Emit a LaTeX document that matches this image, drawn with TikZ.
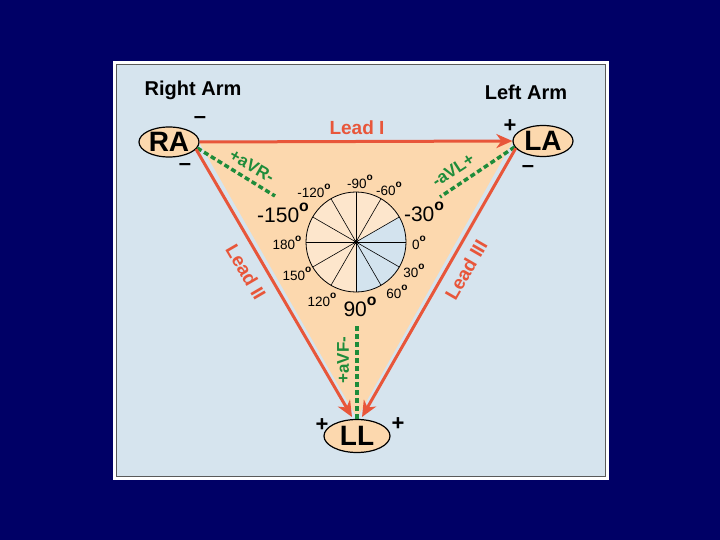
\documentclass[tikz,border=0pt]{standalone}
\usepackage{fontspec}
\setmainfont{Liberation Sans}
\usetikzlibrary{shapes.geometric,arrows.meta}
\definecolor{navy}{HTML}{000066}
\definecolor{panel}{HTML}{D6E4EE}
\definecolor{peach}{HTML}{FCD8AE}
\definecolor{lightpeach}{HTML}{FDE6CC}
\definecolor{leadred}{HTML}{E8563A}
\definecolor{avgreen}{HTML}{1E8C3A}
\definecolor{sectorblue}{HTML}{D3E3EE}
\newcommand\dgo{\raisebox{0.55em}{\scalebox{0.75}{\bfseries o}}}
\begin{document}
\begin{tikzpicture}[x=1pt,y=-1pt,
  limb/.style={ellipse,draw=black,line width=1.2pt,fill=peach,inner sep=0pt,font=\bfseries\fontsize{28}{28}\selectfont},
  lead/.style={draw=leadred,line width=3pt,-{Stealth[length=16pt,width=14pt,inset=5pt]}},
  leadlbl/.style={text=leadred,font=\bfseries\fontsize{19}{19}\selectfont},
  aug/.style={draw=avgreen,line width=3.5pt,dash pattern=on 5pt off 3pt},
  auglbl/.style={text=avgreen,font=\bfseries\fontsize{17}{17}\selectfont,inner sep=1pt},
  sign/.style={font=\bfseries\fontsize{22}{22}\selectfont,inner sep=0pt},
  armlbl/.style={font=\bfseries\fontsize{20}{20}\selectfont},
  sm/.style={font=\fontsize{13.5}{13.5}\selectfont,inner sep=0pt},
  lg/.style={font=\fontsize{21}{21}\selectfont,inner sep=0pt}]
\fill[navy] (0,0) rectangle (720,540);
\useasboundingbox (0,0) rectangle (720,540);
\draw[white,line width=3pt,fill=panel] (114.5,62.5) rectangle (607,478);
\draw[gray!70!black,line width=0.8pt] (116.5,64.5) rectangle (605,476);
% triangle
\fill[peach] (199,142) -- (513,141) -- (357,418) -- cycle;
% hexaxial circle
\coordinate (c) at (356,242);
\fill[lightpeach] (c) circle[radius=50pt];
\fill[sectorblue] (c) -- ++(30:50pt) arc[start angle=30,end angle=-90,radius=50pt] -- cycle;
\foreach \a in {0,30,...,150}
  \draw[line width=0.6pt] (c) ++(\a:50pt) -- ++(\a+180:100pt);
\draw[line width=0.8pt] (c) circle[radius=50pt];
\fill (c) circle[radius=2pt];
% angle labels
\node[sm] (am90) at (360,182) {-90\dgo};
\node[sm] (am120) at (314,191) {-120\dgo};
\node[sm] (am60) at (389,189) {-60\dgo};
\node[lg] (am150) at (283,213) {-150\dgo};
\node[lg] (am30) at (424,212) {-30\dgo};
\node[sm] (a180) at (287,243) {180\dgo};
\node[sm] (a0) at (419,243) {0\dgo};
\node[sm] (a150) at (297,274) {150\dgo};
\node[sm] (a30) at (414,271) {30\dgo};
\node[sm] (a120) at (322,300) {120\dgo};
\node[sm] (a60) at (397,292) {60\dgo};
\node[lg] (a90) at (360,307) {90\dgo};
% limb electrodes
\node[limb,minimum width=60pt,minimum height=30pt] (RA) at (169,142) {RA};
\node[limb,minimum width=60pt,minimum height=31pt] (LA) at (543,141) {LA};
\node[limb,minimum width=66pt,minimum height=33pt] (LL) at (357,436) {LL};
\node[armlbl] (ral) at (193,90) {Right Arm};
\node[armlbl] (lal) at (526,92) {Left Arm};
% signs
\node[sign] (s1) at (200,120) {\textendash};
\node[sign] (s2) at (185,167) {\textendash};
\node[sign] (s3) at (510,126) {+};
\node[sign] (s4) at (528,169) {\textendash};
\node[sign] (s5) at (322,425) {+};
\node[sign] (s6) at (398,424) {+};
% augmented leads
\coordinate (avrend) at (275,196);
\coordinate (avlend) at (440,197);
\coordinate (avfstart) at (357,326);
\draw[aug] (RA.-12) -- (avrend);
\draw[aug] (LA.192) -- (avlend);
\draw[aug] (avfstart) -- (LL.north);
\node[auglbl,rotate=-30] (avr) at (252,166) {+aVR-};
\node[auglbl,rotate=33] (avl) at (453,170) {-aVL+};
\node[auglbl,rotate=90] (avf) at (343,360) {+aVF-};
% bipolar leads
\coordinate (l2end) at (352,417);
\coordinate (l3end) at (362,417);
\draw[lead] (RA.east) -- (LA.west);
\draw[lead] (RA.-15) -- (l2end);
\draw[lead] (LA.195) -- (l3end);
\node[leadlbl] (l1) at (357,128) {Lead I};
\node[leadlbl,rotate=-59.7] (l2) at (246,272) {Lead II};
\node[leadlbl,rotate=60] (l3) at (466,270) {Lead III};
\end{tikzpicture}
\end{document}
